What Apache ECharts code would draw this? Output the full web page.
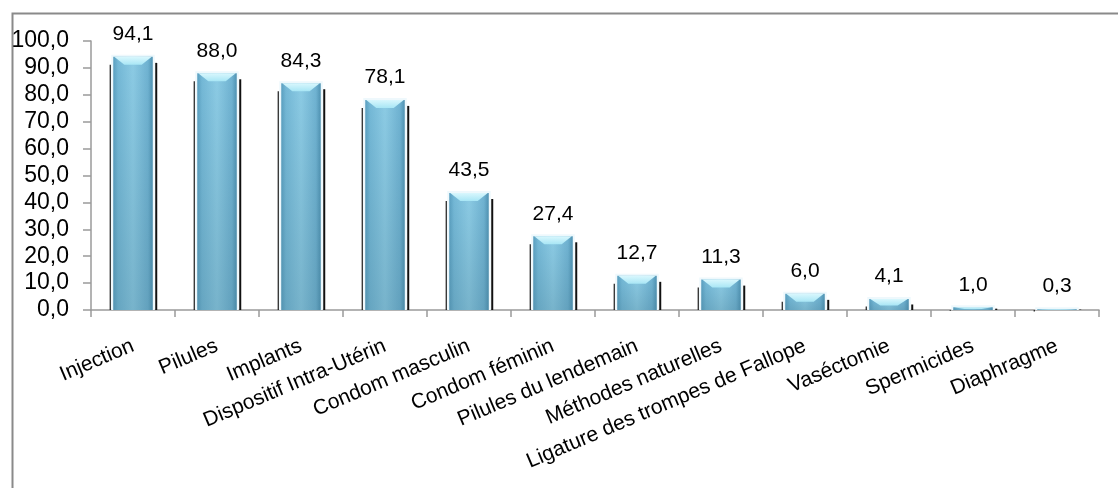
<!DOCTYPE html>
<html>
<head>
<meta charset="utf-8">
<style>
  html, body { margin: 0; padding: 0; background: #fff; }
  #chart { width: 1118px; height: 488px; }
</style>
<script src="https://cdn.jsdelivr.net/npm/echarts@6/dist/echarts.min.js"></script>
</head>
<body>
<div id="chart"></div>
<script>
// Méthodes contraceptives connues (%)
const categories = [
  'Injection', 'Pilules', 'Implants', 'Dispositif Intra-Utérin',
  'Condom masculin', 'Condom féminin', 'Pilules du lendemain',
  'Méthodes naturelles', 'Ligature des trompes de Fallope',
  'Vaséctomie', 'Spermicides', 'Diaphragme'
];
const values = [94.1, 88.0, 84.3, 78.1, 43.5, 27.4, 12.7, 11.3, 6.0, 4.1, 1.0, 0.3];
const yTicks = { min: 0, max: 100, interval: 10 };

const fmt = v => v.toFixed(1).replace('.', ',');
const FONT = '"Liberation Sans", Arial, sans-serif';

const chart = echarts.init(document.getElementById('chart'), null, { renderer: 'canvas' });

// Column drawn as a glossy cylinder: blue body, cyan top cap, dark side edges
function renderColumn(params, api) {
  const idx = api.value(0);
  const val = api.value(1);
  const top = api.coord([idx, val]);
  const base = api.coord([idx, 0]);
  const band = api.size([1, 0])[0];
  const w = band * 0.47;
  const x0 = top[0] - w / 2;
  const h = base[1] - top[1];
  const cap = Math.min(8, h * 0.6);
  const sideTop = top[1] + Math.min(6, h * 0.5);

  return {
    type: 'group',
    children: [
      { // soft white halo
        type: 'rect',
        shape: { x: x0 - 2, y: top[1] - 2, width: w + 4, height: h + 2 },
        style: { fill: '#eef8fc' }
      },
      {
        type: 'rect',
        shape: { x: x0, y: top[1], width: w, height: h },
        style: {
          fill: new echarts.graphic.LinearGradient(0, 0, 1, 0, [
            { offset: 0, color: '#5a9fc0' },
            { offset: 0.12, color: '#74b8d6' },
            { offset: 0.5, color: '#8ccbe4' },
            { offset: 0.88, color: '#6fb2d1' },
            { offset: 1, color: '#4f92b2' }
          ])
        }
      },
      { // darker tone towards the base
        type: 'rect',
        shape: { x: x0, y: top[1], width: w, height: h },
        style: {
          fill: new echarts.graphic.LinearGradient(0, 0, 0, 1, [
            { offset: 0, color: 'rgba(60,110,130,0)' },
            { offset: 1, color: 'rgba(60,110,130,0.25)' }
          ])
        }
      },
      { // cyan top cap
        type: 'polygon',
        shape: {
          points: [
            [x0 + 1, top[1]], [x0 + w - 1, top[1]],
            [x0 + w * 0.72, top[1] + cap], [x0 + w * 0.28, top[1] + cap]
          ]
        },
        style: {
          fill: new echarts.graphic.LinearGradient(0, 0, 0, 1, [
            { offset: 0, color: '#d9f7fd' },
            { offset: 1, color: '#a8e6f5' }
          ])
        }
      },
      { // left dark edge
        type: 'line',
        shape: { x1: x0 - 3, y1: sideTop + 2, x2: x0 - 3, y2: base[1] },
        style: { stroke: '#1a1a1a', lineWidth: 1.2 }
      },
      { // right dark edge
        type: 'line',
        shape: { x1: x0 + w + 3.5, y1: sideTop, x2: x0 + w + 3.5, y2: base[1] },
        style: { stroke: '#111', lineWidth: 2 }
      },
      { // value label
        type: 'text',
        x: top[0],
        y: top[1] - 12,
        style: {
          text: fmt(val),
          font: '21px ' + FONT,
          fill: '#000',
          align: 'center',
          verticalAlign: 'bottom'
        }
      }
    ]
  };
}

chart.setOption({
  animation: false,
  backgroundColor: '#fff',
  graphic: [{
    type: 'rect',
    left: 10, top: 11,
    shape: { width: 1200, height: 600 },
    style: { fill: 'none', stroke: '#8a8a8a', lineWidth: 2 },
    z: -1
  }],
  grid: { left: 91, right: 19, top: 41, bottom: 178, containLabel: false },
  xAxis: {
    type: 'category',
    data: categories,
    boundaryGap: true,
    axisLine: { lineStyle: { color: '#9a9a9a', width: 1.5 } },
    axisTick: { show: true, length: 7, alignWithLabel: false, lineStyle: { color: '#9a9a9a', width: 1.5 } },
    axisLabel: {
      interval: 0,
      rotate: 23,
      margin: 35,
      color: '#000',
      fontSize: 21,
      fontFamily: FONT
    }
  },
  yAxis: {
    type: 'value',
    min: yTicks.min,
    max: yTicks.max,
    interval: yTicks.interval,
    axisLine: { show: true, lineStyle: { color: '#9a9a9a', width: 1.5 } },
    axisTick: { show: true, length: 8, lineStyle: { color: '#9a9a9a', width: 1.5 } },
    splitLine: { show: false },
    axisLabel: {
      margin: 22,
      color: '#000',
      fontSize: 23,
      fontFamily: FONT,
      formatter: v => fmt(v)
    }
  },
  series: [{
    type: 'custom',
    renderItem: renderColumn,
    encode: { x: 0, y: 1 },
    data: values.map((v, i) => [i, v]),
    clip: false
  }]
});
</script>
</body>
</html>
